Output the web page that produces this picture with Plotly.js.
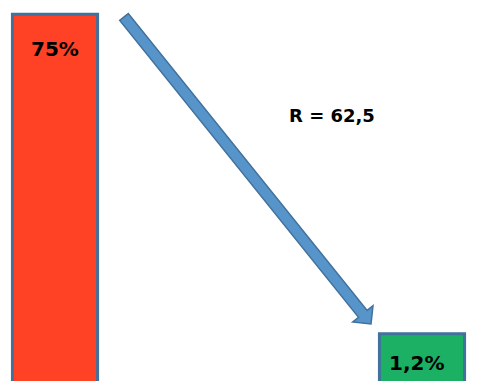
<!DOCTYPE html>
<html>
<head>
<meta charset="utf-8">
<script src="https://cdn.plot.ly/plotly-3.0.1.min.js"></script>
<style>html,body{margin:0;padding:0;background:#fff;}#chart{width:502px;height:381px;}</style>
</head>
<body>
<div id="chart"></div>
<script>
// ---- data ----
const categories = ['Avant', 'Après'];
const values = [75, 1.2];
const valueLabels = ['75%', '1,2%'];
const ratioLabel = 'R = 62,5';
const barColors = ['#FF4126', '#1BB064'];

// ---- layout helpers ----
const W = 502, H = 381;
const px = (x, y) => [(x / W).toFixed(5), (1 - y / H).toFixed(5)];

// block arrow geometry (pixels)
const S = [124, 17], T = [371, 324];
const dx = T[0] - S[0], dy = T[1] - S[1];
const L = Math.hypot(dx, dy);
const u = [dx / L, dy / L], n = [u[1], -u[0]];
const w = 5.5, hw = 13, hl = 13;
const B = [T[0] - u[0] * hl, T[1] - u[1] * hl];
const pts = [
  [S[0] - n[0] * w, S[1] - n[1] * w],
  [S[0] + n[0] * w, S[1] + n[1] * w],
  [B[0] + n[0] * w, B[1] + n[1] * w],
  [B[0] + n[0] * hw, B[1] + n[1] * hw],
  T,
  [B[0] - n[0] * hw, B[1] - n[1] * hw],
  [B[0] - n[0] * w, B[1] - n[1] * w]
];
const path = 'M ' + pts.map(p => px(p[0], p[1]).join(',')).join(' L ') + ' Z';

const trace = {
  type: 'bar',
  x: categories,
  y: values,
  width: 0.232,
  marker: { color: barColors, line: { color: '#41719C', width: 3 } },
  hoverinfo: 'skip',
  cliponaxis: true
};

const font = { family: 'DejaVu Sans, Verdana, sans-serif', size: 20, color: '#000' };

const layout = {
  width: W, height: H,
  margin: { l: 0, r: 0, t: 0, b: 0 },
  paper_bgcolor: '#fff', plot_bgcolor: '#fff',
  showlegend: false,
  bargap: 0,
  xaxis: { type: 'category', range: [-0.1499, 1.218], visible: false, fixedrange: true },
  yaxis: { type: 'log', range: [-0.186, 1.955], visible: false, fixedrange: true },
  shapes: [{
    type: 'path', xref: 'paper', yref: 'paper', path: path,
    fillcolor: '#5794CA', line: { color: '#41719C', width: 1.5 }
  }],
  annotations: [
    { xref: 'x', yref: 'paper', x: categories[0], y: 1 - 49 / H, text: '<b>' + valueLabels[0] + '</b>', showarrow: false, font: font, xanchor: 'center', yanchor: 'middle' },
    { xref: 'x', yref: 'paper', x: categories[1], y: 1 - 363 / H, text: '<b>' + valueLabels[1] + '</b>', showarrow: false, font: font, xanchor: 'center', yanchor: 'middle', xshift: -6 },
    { xref: 'paper', yref: 'paper', x: 332 / W, y: 1 - 115 / H, text: '<b>' + ratioLabel + '</b>', showarrow: false, font: Object.assign({}, font, { size: 18 }), xanchor: 'center', yanchor: 'middle' }
  ]
};

Plotly.newPlot('chart', [trace], layout, { displayModeBar: false, staticPlot: true });
</script>
</body>
</html>
